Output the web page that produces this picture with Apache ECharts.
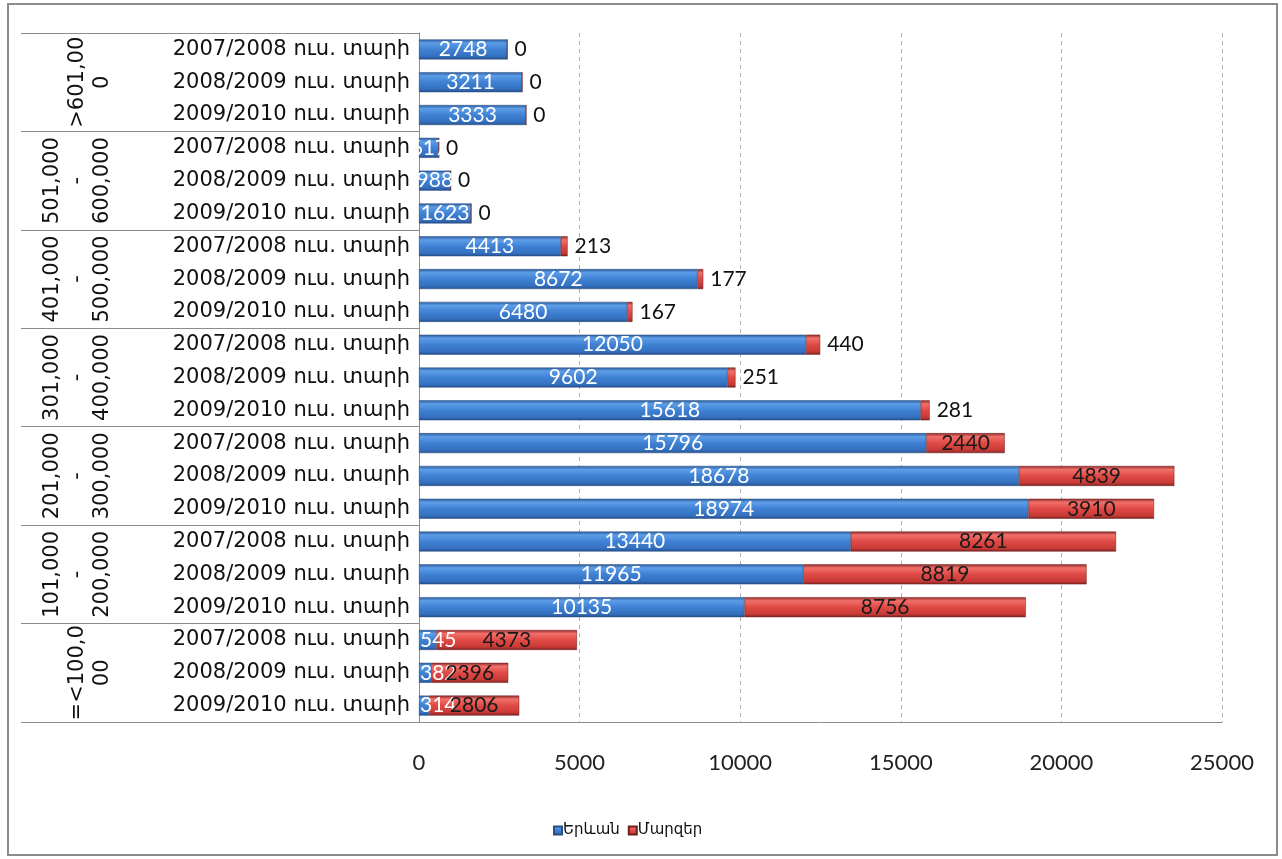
<!DOCTYPE html>
<html><head><meta charset="utf-8">
<script src="https://cdn.jsdelivr.net/npm/echarts@6/dist/echarts.min.js"></script>
<style>
html,body{margin:0;padding:0;background:#fff}
#c{width:1282px;height:859px}
#b{position:absolute;left:7px;top:3px;width:1271px;height:853px;border:2px solid #8c8c8c;box-sizing:border-box;pointer-events:none}
</style>
</head><body><div id="c"></div><div id="b"></div>
<script>
const groupLabels = ['>601,00\n0', '501,000\n-\n600,000', '401,000\n-\n500,000', '301,000\n-\n400,000', '201,000\n-\n300,000', '101,000\n-\n200,000', '=<100,0\n00'];
const years = ['2007/2008 ուս. տարի', '2008/2009 ուս. տարի', '2009/2010 ուս. տարի'];
const seriesNames = ['Երևան', 'Մարզեր'];
const yerevan = [2748, 3211, 3333, 617, 988, 1623, 4413, 8672, 6480, 12050, 9602, 15618, 15796, 18678, 18974, 13440, 11965, 10135, 545, 382, 314];
const marzer = [0, 0, 0, 0, 0, 0, 213, 177, 167, 440, 251, 281, 2440, 4839, 3910, 8261, 8819, 8756, 4373, 2396, 2806];
const xMin = 0, xMax = 25000, xStep = 5000;

const categories = groupLabels.flatMap((g, gi) => years.map(y => gi + '|' + y));

const blueGrad = new echarts.graphic.LinearGradient(0, 0, 0, 1, [
  {offset: 0, color: '#2b5a98'}, {offset: 0.18, color: '#5d9ee9'},
  {offset: 0.5, color: '#3f81d3'}, {offset: 0.85, color: '#3470bf'}, {offset: 1, color: '#244c86'}]);
const redGrad = new echarts.graphic.LinearGradient(0, 0, 0, 1, [
  {offset: 0, color: '#8c2927'}, {offset: 0.18, color: '#f2706b'},
  {offset: 0.5, color: '#e04a45'}, {offset: 0.85, color: '#c83a36'}, {offset: 1, color: '#7a2120'}]);

const labelFont = {fontFamily: 'Lato', fontSize: 21};
const catFont = {fontFamily: '"DejaVu Sans", "Liberation Sans"', fontSize: 21, color: '#111'};

const chart = echarts.init(document.getElementById('c'));
chart.setOption({
  animation: false,
  backgroundColor: '#fff',
  grid: {left: 419, right: 60, top: 33, bottom: 137, containLabel: false, outerBoundsMode: 'none'},
  legend: {
    data: seriesNames, left: 548, top: 818, itemWidth: 8, itemHeight: 8, itemGap: 8,
    textStyle: {fontFamily: '"DejaVu Sans"', fontSize: 15, color: '#111', padding: [0, 0, 0, -4]},
    icon: 'rect'
  },
  xAxis: {
    type: 'value', min: xMin, max: xMax, interval: xStep,
    axisLine: {show: true, lineStyle: {color: '#8c8c8c'}},
    axisTick: {show: false},
    splitLine: {show: true, lineStyle: {color: '#b0b0b0', type: [4, 4]}},
    axisLabel: {fontFamily: 'Lato', fontSize: 22, color: '#222', margin: 30, formatter: v => String(v)}
  },
  yAxis: [
    {
      type: 'category', data: categories, inverse: true, position: 'left',
      axisLine: {show: true, lineStyle: {color: '#8c8c8c'}},
      axisTick: {show: false},
      axisLabel: Object.assign({margin: 9, formatter: v => v.split('|')[1]}, catFont)
    },
    {
      type: 'category', data: groupLabels, inverse: true, position: 'left', offset: 0,
      axisLine: {show: false},
      axisTick: {show: true, length: 398, interval: 0, lineStyle: {color: '#8c8c8c'}},
      axisLabel: Object.assign({rotate: 90, margin: 304, lineHeight: 25, interval: 0}, catFont)
    }
  ],
  series: [
    {
      name: seriesNames[0], type: 'bar', stack: 's', barWidth: 20, yAxisIndex: 0,
      itemStyle: {color: blueGrad, borderColor: '#2a4f80', borderWidth: 0.5},
      label: Object.assign({show: true, position: 'inside', color: '#fff'}, labelFont),
      data: yerevan.map(v => ({value: v, label: v < 600 ? {position: 'insideLeft', distance: 1} : {}}))
    },
    {
      name: seriesNames[1], type: 'bar', stack: 's', barWidth: 20, yAxisIndex: 0,
      itemStyle: {color: redGrad, borderColor: '#6e1f1e', borderWidth: 0.5},
      label: Object.assign({show: true, position: 'inside', color: '#1a1a1a'}, labelFont),
      data: marzer.map(v => ({value: v, label: v < 1000 ? {position: 'right', distance: 7, color: '#111'} : {}}))
    }
  ]
});
</script>
</body></html>
